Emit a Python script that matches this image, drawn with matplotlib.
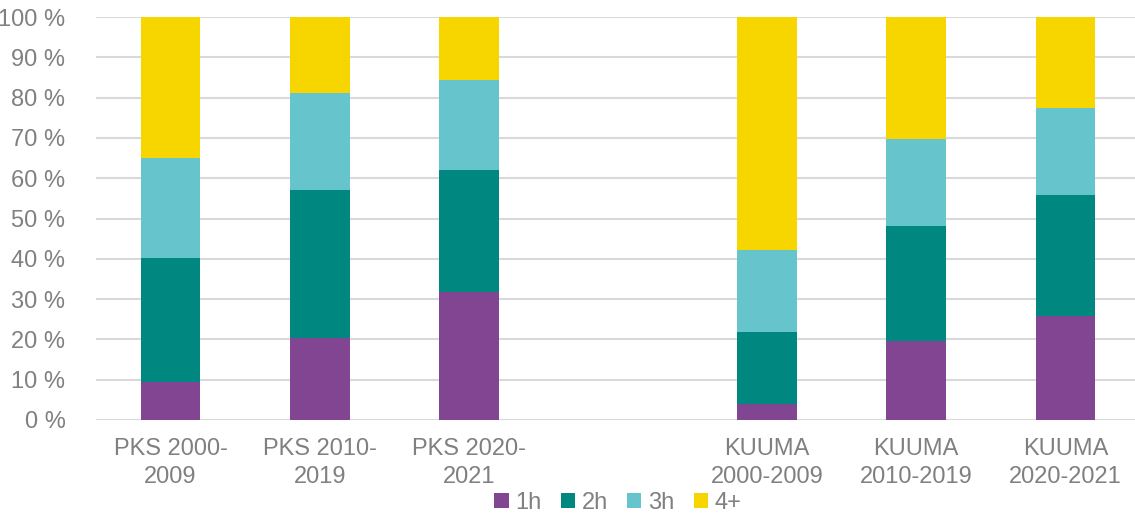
import numpy as np
import matplotlib.pyplot as plt

plt.rcParams['font.family'] = ['Liberation Sans', 'DejaVu Sans']

categories = ["PKS 2000-\n2009", "PKS 2010-\n2019", "PKS 2020-\n2021", "",
              "KUUMA\n2000-2009", "KUUMA\n2010-2019", "KUUMA\n2020-2021"]
series = ["1h", "2h", "3h", "4+"]
h1 = [9.4, 20.3, 31.8, 0, 4.0, 19.6, 25.8]
h2 = [30.8, 36.8, 30.2, 0, 17.8, 28.5, 30.0]
h3 = [24.8, 24.0, 22.4, 0, 20.4, 21.6, 21.6]
h4 = [35.0, 18.9, 15.6, 0, 57.8, 30.3, 22.6]
colors = ["#824592", "#00877F", "#66C4CC", "#F7D600"]

gray = "#808080"
fig = plt.figure(figsize=(11.35, 5.14), dpi=100)
ax = fig.add_axes([96 / 1135, 1 - 420 / 514, 1044 / 1135, 403 / 514])

x = np.arange(len(categories))
bottom = np.zeros(len(categories))
for name, vals, c in zip(series, [h1, h2, h3, h4], colors):
    vals = np.array(vals)
    ax.bar(x, vals, 0.4, bottom=bottom, color=c, label=name, zorder=3)
    bottom += vals

ax.set_xlim(-0.5, len(categories) - 0.5)
ax.set_ylim(0, 100)
ax.set_yticks(range(0, 101, 10))
ax.set_yticklabels([f"{v} %" for v in range(0, 101, 10)])
ax.set_xticks(x)
ax.set_xticklabels(categories, linespacing=1.35)
ax.grid(axis="y", color="#D9D9D9", linewidth=1.5, zorder=0)
for s in ax.spines.values():
    s.set_visible(False)
ax.tick_params(length=0, colors=gray, labelsize=17)
ax.tick_params(axis="x", pad=13)
ax.tick_params(axis="y", pad=22)

ax.legend(loc="center", bbox_to_anchor=(0.5, -0.205), ncol=4, frameon=False,
          fontsize=17, labelcolor=gray, handlelength=0.6, handleheight=0.6,
          handletextpad=0.3, columnspacing=0.8)

fig.savefig("out.png", dpi=100)
